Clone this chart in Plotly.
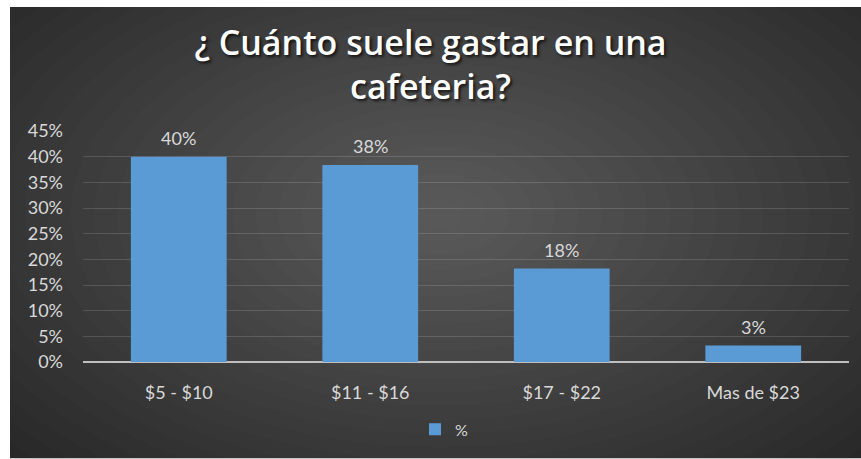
import plotly.graph_objects as go

# Survey data: how much people usually spend at a coffee shop
categories = ["$5 - $10", "$11 - $16", "$17 - $22", "Mas de $23"]
shares = [0.400, 0.384, 0.182, 0.032]
series_name = "%"
title_text = "¿ Cuánto suele gastar en una<br>cafeteria?"

W, H = 861, 459
L, R, T, B = 83, 12, 131, 95
PW, PH = W - L - R, H - T - B


def px_x(px):
    return (px - L) / PW


def px_y(py):
    return (H - B - py) / PH


shapes = []
# dark card behind the chart
shapes.append(dict(type="rect", xref="paper", yref="paper",
                   x0=px_x(10), x1=px_x(W + 2), y0=px_y(6), y1=px_y(H + 2),
                   fillcolor="#262626", line=dict(width=0), layer="below"))
# soft radial glow built from stacked translucent ellipses
cx, cy = 440, 215
n = 26
for i in range(n):
    f = 1 - i / n
    rx, ry = 600 * f, 360 * f
    shapes.append(dict(type="circle", xref="paper", yref="paper",
                       x0=px_x(cx - rx), x1=px_x(cx + rx),
                       y0=px_y(cy + ry), y1=px_y(cy - ry),
                       fillcolor="rgba(255,255,255,0.011)",
                       line=dict(width=0), layer="below"))

fig = go.Figure()
fig.add_trace(go.Bar(
    x=categories, y=shares, name=series_name,
    marker=dict(color="#5B9BD5", line=dict(width=0)),
    showlegend=True,
))

# value labels above each bar
annotations = []
for c, v in zip(categories, shares):
    annotations.append(dict(x=c, y=v, xref="x", yref="y",
                            text=f"{v:.0%}", showarrow=False,
                            yshift=19,
                            font=dict(family="Lato", size=18, color="#D9D9D9")))

fig.update_layout(
    width=W, height=H,
    margin=dict(l=L, r=R, t=T, b=B),
    paper_bgcolor="white",
    plot_bgcolor="rgba(0,0,0,0)",
    shapes=shapes,
    annotations=annotations,
    bargap=0.5,
    title=dict(text=title_text, x=0.5, xref="container", xanchor="center",
               y=1 - 55 / H, yref="container", yanchor="top",
               font=dict(family="Open Sans", size=34, weight=600, color="#FFFFFF",
                         shadow="2px 2px 3px rgba(0,0,0,0.7)")),
    legend=dict(orientation="h", x=px_x(444), xanchor="center",
                y=px_y(432), yanchor="middle", bgcolor="rgba(0,0,0,0)",
                font=dict(family="Lato", size=16, color="#D9D9D9"),
                itemwidth=30),
    xaxis=dict(showgrid=False, showline=False, zeroline=False, ticks="",
               tickfont=dict(family="Lato", size=18, color="#D9D9D9"),
               ticklabelstandoff=18),
    yaxis=dict(range=[0, 0.45], dtick=0.05, tickformat=".0%",
               showgrid=True, gridcolor="rgba(255,255,255,0.14)", gridwidth=1,
               zeroline=True, zerolinecolor="#BFBFBF", zerolinewidth=2,
               showline=False, ticks="",
               tickfont=dict(family="Lato", size=18, color="#D9D9D9"),
               ticklabelstandoff=19),
)

fig.write_html("out.html")
